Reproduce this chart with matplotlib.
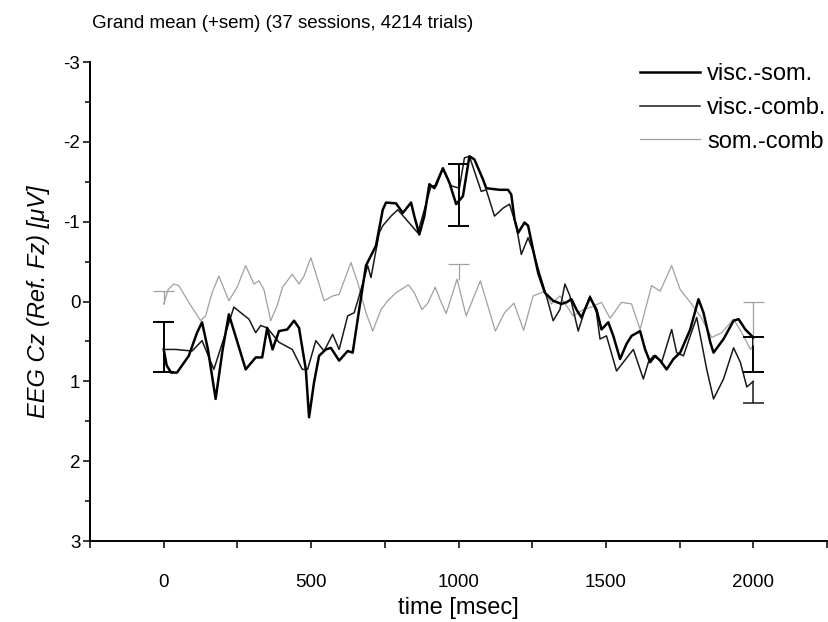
import matplotlib
matplotlib.use("Agg")
import matplotlib.pyplot as plt
from matplotlib.ticker import MultipleLocator

plt.rcParams['font.family'] = ['Liberation Sans', 'DejaVu Sans']
plt.rcParams['axes.unicode_minus'] = False

# --- data ---
visc_som_t = [0, 10, 25, 45, 85, 113, 130, 150, 176, 200, 221, 245, 278, 312, 334, 351,
              369, 391, 419, 442, 459, 482, 493, 510, 527, 550, 567, 595, 624, 641, 663,
              686, 720, 743, 754, 788, 811, 839, 850, 867, 884, 901, 918, 947, 969, 992,
              1015, 1037, 1054, 1083, 1094, 1139, 1168, 1179, 1190, 1202, 1224, 1236,
              1253, 1270, 1293, 1321, 1349, 1366, 1383, 1400, 1417, 1446, 1468, 1485,
              1508, 1525, 1548, 1570, 1587, 1616, 1633, 1650, 1667, 1684, 1706, 1729,
              1752, 1786, 1814, 1831, 1854, 1865, 1899, 1933, 1950, 1973, 2000]
visc_som_v = [0.6, 0.8, 0.89, 0.89, 0.68, 0.39, 0.26, 0.6, 1.22, 0.6, 0.16, 0.45, 0.85,
              0.70, 0.70, 0.33, 0.6, 0.37, 0.35, 0.24, 0.33, 0.85, 1.45, 1.01, 0.68, 0.6,
              0.58, 0.74, 0.62, 0.64, 0.1, -0.45, -0.7, -1.15, -1.24, -1.23, -1.11,
              -1.24, -1.07, -0.84, -1.07, -1.47, -1.42, -1.67, -1.49, -1.22, -1.32,
              -1.82, -1.78, -1.53, -1.42, -1.40, -1.40, -1.34, -1.03, -0.86, -0.99,
              -0.95, -0.65, -0.36, -0.11, -0.01, 0.03, 0.01, -0.03, 0.10, 0.2, -0.05,
              0.1, 0.35, 0.26, 0.43, 0.72, 0.53, 0.43, 0.37, 0.6, 0.76, 0.68, 0.74,
              0.85, 0.72, 0.64, 0.35, -0.03, 0.14, 0.51, 0.64, 0.47, 0.24, 0.22, 0.35,
              0.45]

visc_comb_t = [0, 40, 96, 130, 170, 205, 238, 265, 289, 312, 329, 351, 391, 436, 470,
               488, 516, 544, 573, 595, 624, 646, 663, 692, 703, 731, 743, 771, 794, 822,
               862, 884, 907, 925, 947, 975, 1003, 1020, 1037, 1077, 1094, 1122, 1151,
               1173, 1196, 1213, 1236, 1253, 1276, 1298, 1321, 1344, 1361, 1378, 1406,
               1429, 1446, 1468, 1480, 1502, 1536, 1559, 1593, 1627, 1644, 1661, 1690,
               1723, 1740, 1763, 1786, 1808, 1842, 1865, 1899, 1933, 1956, 1978, 2000]
visc_comb_v = [0.6, 0.6, 0.62, 0.49, 0.85, 0.45, 0.07, 0.15, 0.22, 0.39, 0.3, 0.33, 0.51,
               0.6, 0.85, 0.85, 0.49, 0.62, 0.41, 0.6, 0.18, 0.14, -0.07, -0.45, -0.3,
               -0.86, -0.95, -1.07, -1.15, -1.03, -0.86, -1.15, -1.45, -1.45, -1.67,
               -1.45, -1.42, -1.8, -1.82, -1.38, -1.40, -1.07, -1.17, -1.22, -0.95,
               -0.59, -0.80, -0.63, -0.34, -0.07, 0.24, 0.1, -0.22, -0.07, 0.37, 0.10,
               -0.07, 0.14, 0.47, 0.43, 0.87, 0.76, 0.6, 0.97, 0.76, 0.68, 0.75, 0.35,
               0.64, 0.68, 0.43, 0.2, 0.85, 1.22, 0.97, 0.58, 0.76, 1.07, 1.0]

som_comb_t = [0, 15, 34, 51, 85, 125, 142, 164, 187, 221, 249, 278, 306, 323, 340, 363,
              385, 403, 436, 459, 476, 499, 522, 544, 573, 595, 635, 658, 686, 709, 737,
              760, 788, 830, 850, 876, 896, 921, 940, 958, 995, 1026, 1074, 1125, 1156,
              1188, 1221, 1253, 1293, 1315, 1344, 1389, 1423, 1450, 1485, 1514, 1553,
              1587, 1616, 1655, 1684, 1723, 1752, 1786, 1820, 1859, 1893, 1933, 1967,
              1990, 2000]
som_comb_v = [0.03, -0.15, -0.22, -0.2, 0.01, 0.24, 0.18, -0.11, -0.32, -0.01, -0.18,
              -0.45, -0.22, -0.26, -0.15, 0.24, 0.05, -0.18, -0.34, -0.22, -0.32, -0.55,
              -0.28, -0.01, -0.07, -0.09, -0.49, -0.24, 0.14, 0.37, 0.1, -0.01, -0.11,
              -0.21, -0.11, 0.1, 0.02, -0.18, 0.0, 0.15, -0.28, 0.18, -0.26, 0.37, 0.14,
              0.02, 0.36, -0.07, -0.13, 0.03, -0.07, 0.18, 0.1, 0.07, 0.01, 0.21, 0.01,
              0.03, 0.35, -0.2, -0.13, -0.45, -0.15, 0.01, 0.18, 0.45, 0.39, 0.22, 0.43,
              0.6, 0.55]

# sem bars (from / to)
visc_som_err_t = [0, 1000, 2000]
visc_som_err_lo = [0.25, -1.72, 0.45]
visc_som_err_hi = [0.88, -0.95, 0.88]
visc_comb_err_t = [2000]
visc_comb_err_lo = [1.0]
visc_comb_err_hi = [1.27]
som_comb_err_t = [0, 1000, 2000]
som_comb_err_lo = [-0.13, -0.47, 0.0]
som_comb_err_hi = [0.03, -0.27, 0.55]

labels = ["visc.-som.", "visc.-comb.", "som.-comb"]

fig = plt.figure(figsize=(8.29, 6.22), dpi=100)
ax = fig.add_axes([0.1086, 0.1302, 0.889, 0.770])

ax.plot(visc_som_t, visc_som_v, color="black", lw=1.8, label=labels[0], zorder=3,
        solid_joinstyle="round")
ax.plot(visc_comb_t, visc_comb_v, color="#1a1a1a", lw=1.1, label=labels[1], zorder=2,
        solid_joinstyle="round")
ax.plot(som_comb_t, som_comb_v, color="#a0a0a0", lw=0.9, label=labels[2], zorder=1,
        solid_joinstyle="round")

cap = 35
# black bars: caps at both ends
ax.vlines(visc_som_err_t, visc_som_err_lo, visc_som_err_hi, color="black", lw=1.4)
for t, lo, hi in zip(visc_som_err_t, visc_som_err_lo, visc_som_err_hi):
    ax.hlines([lo, hi], t - cap, t + cap, color="black", lw=1.4)
ax.vlines(visc_comb_err_t, visc_comb_err_lo, visc_comb_err_hi, color="#1a1a1a", lw=1.1)
ax.hlines(visc_comb_err_hi, [t - cap for t in visc_comb_err_t],
          [t + cap for t in visc_comb_err_t], color="#1a1a1a", lw=1.1)
# gray bars: cap only at the outer end
ax.vlines(som_comb_err_t, som_comb_err_lo, som_comb_err_hi, color="#a0a0a0", lw=0.9)
ax.hlines(som_comb_err_lo, [t - cap for t in som_comb_err_t],
          [t + cap for t in som_comb_err_t], color="#a0a0a0", lw=0.9)

ax.set_xlim(-250, 2250)
ax.set_ylim(3, -3)
ax.xaxis.set_major_locator(MultipleLocator(500))
ax.xaxis.set_minor_locator(MultipleLocator(250))
ax.yaxis.set_major_locator(MultipleLocator(1))
ax.yaxis.set_minor_locator(MultipleLocator(0.5))

for s in ["top", "right"]:
    ax.spines[s].set_visible(False)
for s in ["left", "bottom"]:
    ax.spines[s].set_linewidth(1.4)
ax.tick_params(which="major", length=5, width=1.1, labelsize=13.5)
ax.tick_params(axis="y", which="major", pad=2)
ax.tick_params(axis="x", which="major", pad=19)
ax.tick_params(axis="x", which="minor", length=5, width=1.1)
ax.tick_params(axis="y", which="minor", length=3.5, width=1.1)

ax.set_xlabel("time [msec]", fontsize=17, labelpad=4)
ax.set_ylabel("EEG Cz (Ref. Fz) [μV]", fontsize=17, style="italic", labelpad=10)

fig.text(0.111, 0.963, "Grand mean (+sem) (37 sessions, 4214 trials)",
         fontsize=13.5, ha="left", va="center")

leg = ax.legend(loc="upper left", bbox_to_anchor=(640 / 829, 1 - 63 / 622),
                bbox_transform=fig.transFigure, frameon=False, fontsize=17,
                handlelength=2.55, handletextpad=0.3, labelspacing=0.5,
                borderpad=0, borderaxespad=0)

fig.savefig("out.png", dpi=100)
